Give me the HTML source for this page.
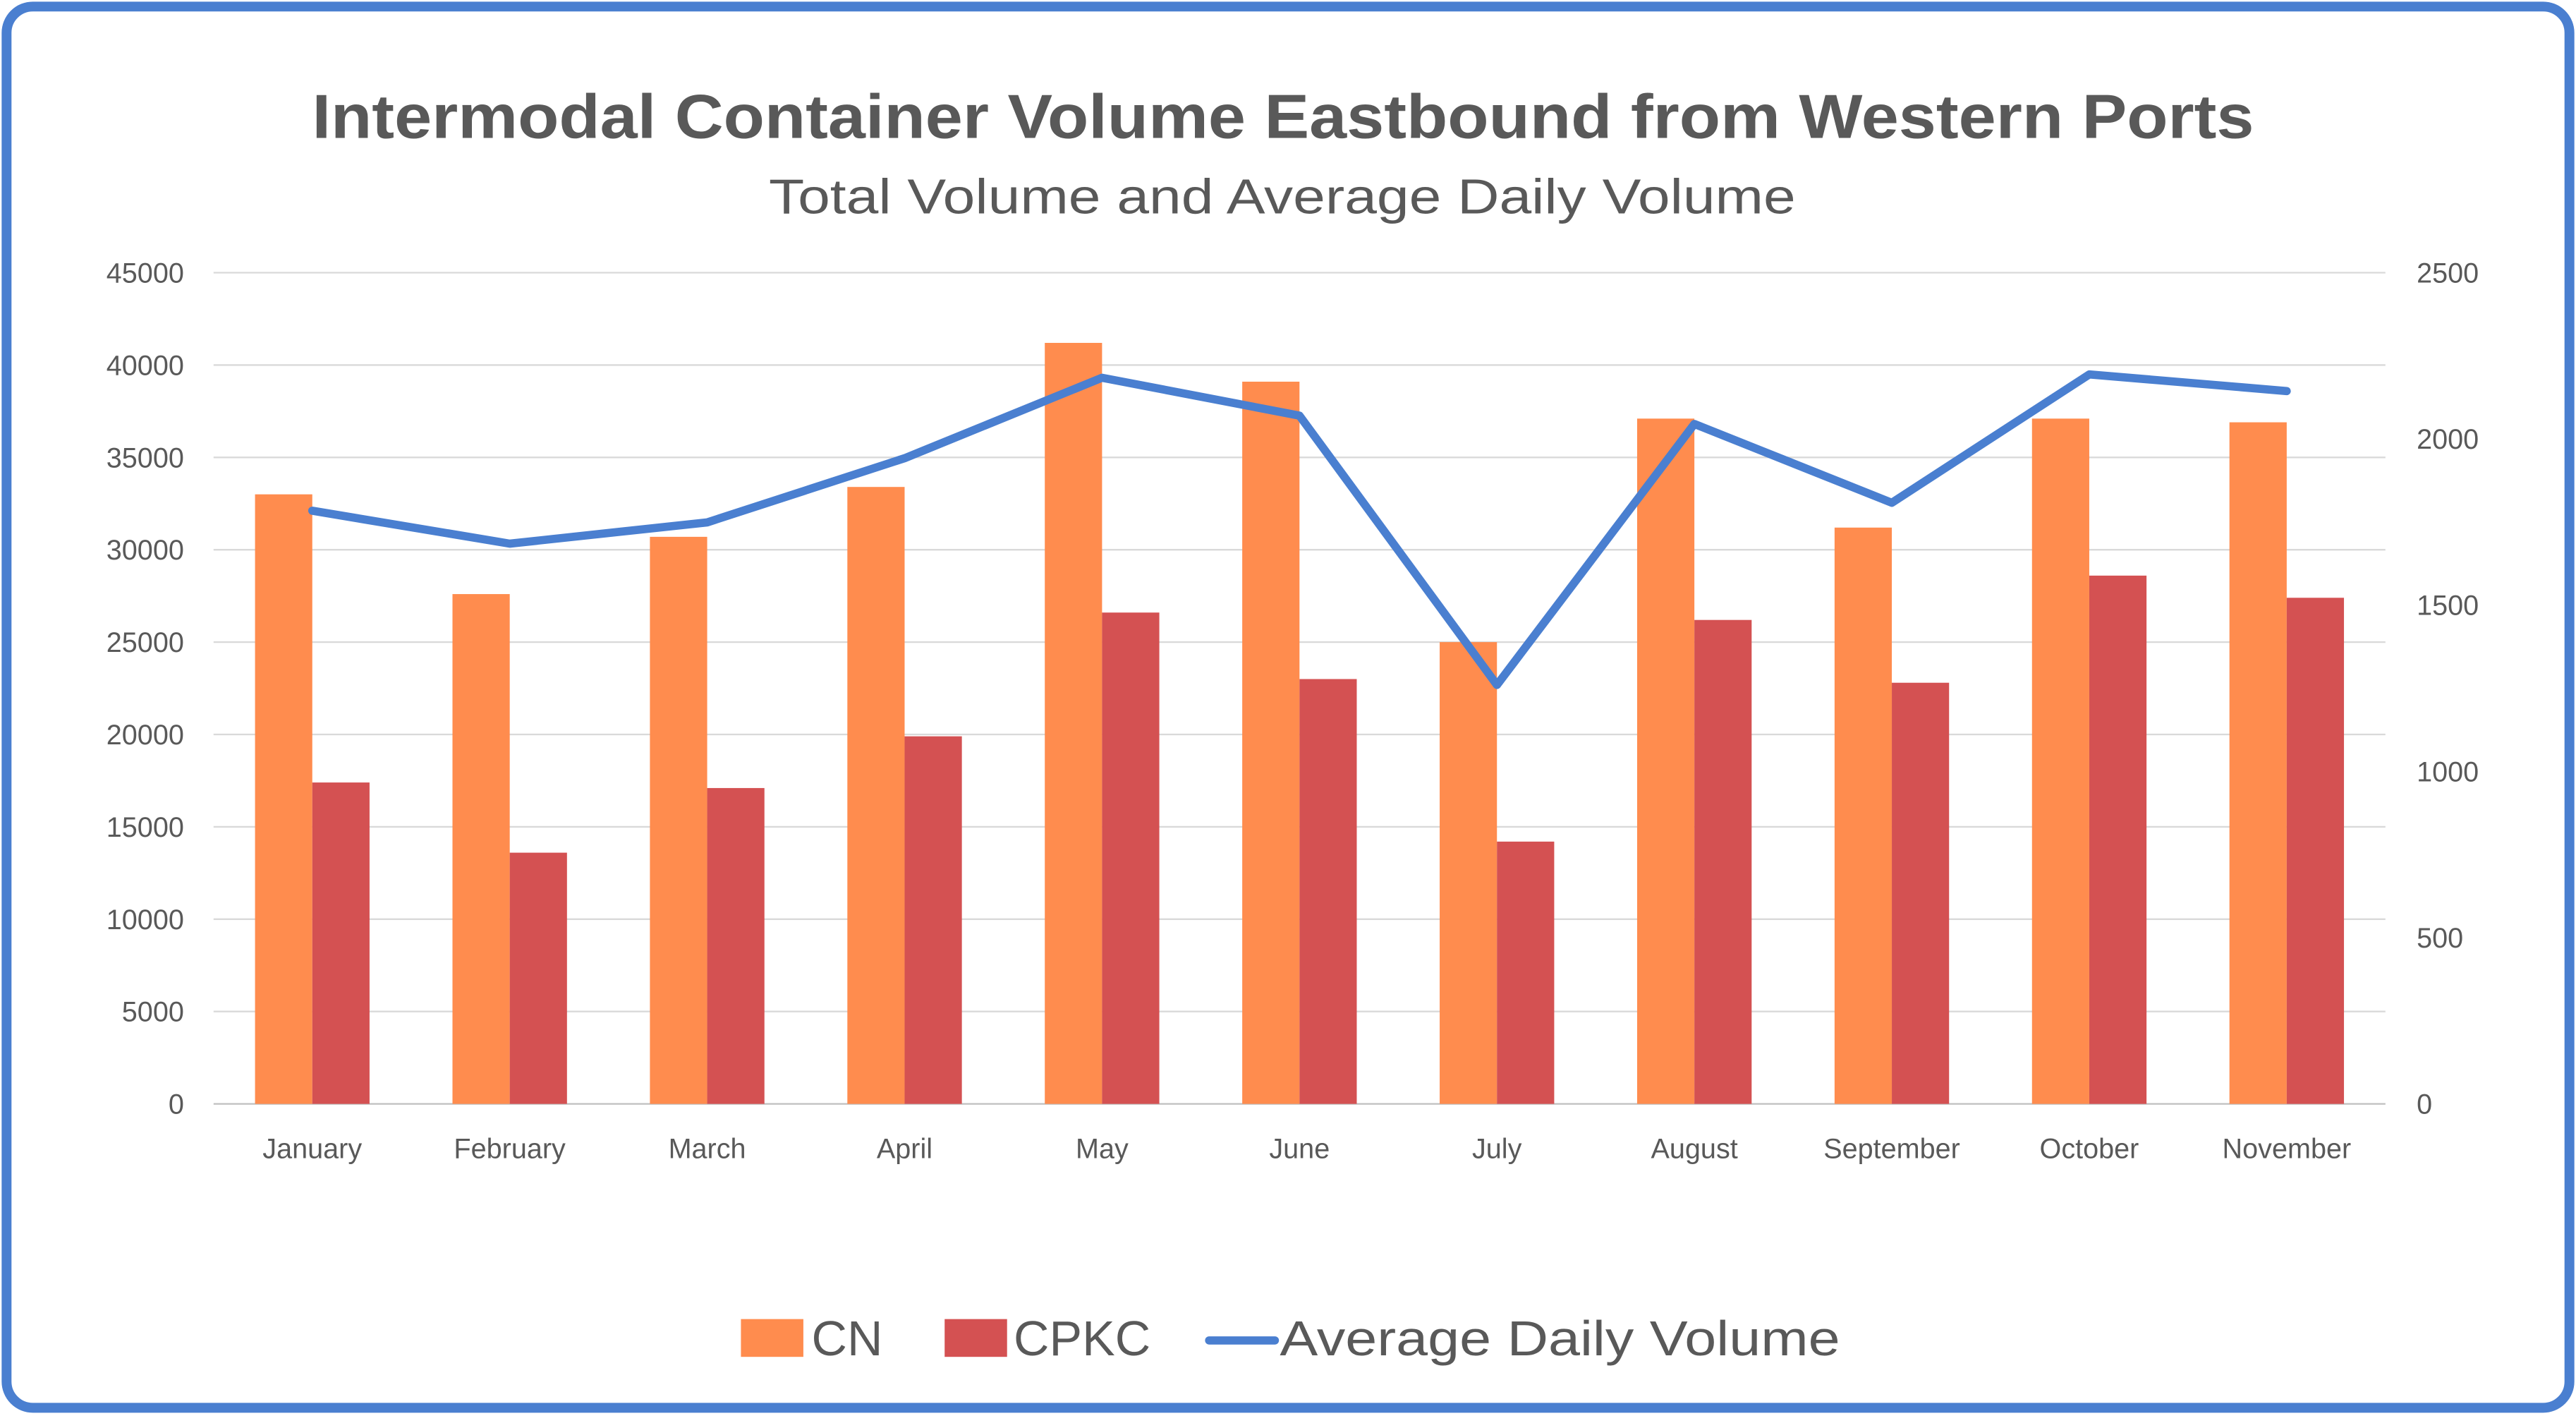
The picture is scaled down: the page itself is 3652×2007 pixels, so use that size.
<!DOCTYPE html>
<html><head><meta charset="utf-8"><style>
html,body{margin:0;padding:0;background:#fff;}
svg{display:block;}
text{font-family:"Liberation Sans",sans-serif;}
</style></head><body>
<svg id="chart" width="3652" height="2007" viewBox="0 0 1568 862" preserveAspectRatio="none" xmlns="http://www.w3.org/2000/svg">
<rect x="4" y="4" width="1560" height="853" rx="16" fill="#fff" stroke="#4A7FD0" stroke-width="6"/>
<text x="190" y="84" textLength="1182" lengthAdjust="spacingAndGlyphs" font-size="38" font-weight="bold" fill="#595959">Intermodal Container Volume Eastbound from Western Ports</text>
<text x="468" y="130" textLength="625" lengthAdjust="spacingAndGlyphs" font-size="30" fill="#595959">Total Volume and Average Daily Volume</text>
<g id="grid"></g><g id="bars"></g><g id="line"></g><g id="axes"></g>
<g>
<rect x="451" y="803" width="38" height="23" fill="#FF8C4E"/>
<text x="494" y="825" font-size="30" fill="#595959">CN</text>
<rect x="575" y="803" width="38" height="23" fill="#D45152"/>
<text x="617" y="825" font-size="30" fill="#595959">CPKC</text>
<line x1="736" y1="816" x2="776" y2="816" stroke="#4A7FD0" stroke-width="5" stroke-linecap="round"/>
<text x="779" y="825" textLength="341" lengthAdjust="spacingAndGlyphs" font-size="30" fill="#595959">Average Daily Volume</text>
</g>
</svg>
<script>
const categories=["January","February","March","April","May","June","July","August","September","October","November"];
const cnValues=[33000,27600,30700,33400,41200,39100,25000,37100,31200,37100,36900];
const cpkcValues=[17400,13600,17100,19900,26600,23000,14200,26200,22800,28600,27400];
const avgDaily=[1784,1685,1749,1942,2184,2070,1260,2045,1808,2194,2144];
const leftTicks=[0,5000,10000,15000,20000,25000,30000,35000,40000,45000];
const rightTicks=[0,500,1000,1500,2000,2500];
const NS="http://www.w3.org/2000/svg";
const plotL=130,plotR=1452,plotTop=166,plotBot=672;
const yL=v=>plotBot-(v/45000)*(plotBot-plotTop);
const yR=v=>plotBot-(v/2500)*(plotBot-plotTop);
const band=(plotR-plotL)/categories.length;
const xC=i=>plotL+band*(i+0.5);
const bw=band*0.29;
function mk(tag,attrs,parent){const e=document.createElementNS(NS,tag);for(const k in attrs)e.setAttribute(k,attrs[k]);document.getElementById(parent).appendChild(e);return e;}
leftTicks.forEach(t=>{
 const g=mk("line",{x1:plotL,x2:plotR,y1:yL(t),y2:yL(t),stroke:t===0?"#BFBFBF":"#D9D9D9","stroke-width":1},"grid");
 
 
 const l=mk("text",{x:112,y:yL(t)+6,"text-anchor":"end","font-size":17,fill:"#595959"},"axes");
 l.textContent=t;
 
 
});
rightTicks.forEach(t=>{
 const l=mk("text",{x:1471,y:yR(t)+6,"font-size":17,fill:"#595959"},"axes");
 l.textContent=t;
 
 
});
categories.forEach((c,i)=>{
 const cx=xC(i);
 const b1=mk("rect",{x:cx-bw,y:yL(cnValues[i]),width:bw,height:plotBot-yL(cnValues[i]),fill:"#FF8C4E"},"bars");
 
 
 const b2=mk("rect",{x:cx,y:yL(cpkcValues[i]),width:bw,height:plotBot-yL(cpkcValues[i]),fill:"#D45152"},"bars");
 
 
 const l=mk("text",{x:cx,y:705,"text-anchor":"middle","font-size":17,fill:"#595959"},"axes");
 l.textContent=c;
 
 
});
const pts=avgDaily.map((v,i)=>xC(i)+","+yR(v)).join(" ");
const pl=mk("polyline",{points:pts,fill:"none",stroke:"#4A7FD0","stroke-width":5,"stroke-linejoin":"round","stroke-linecap":"round"},"line");


</script>
</body></html>
